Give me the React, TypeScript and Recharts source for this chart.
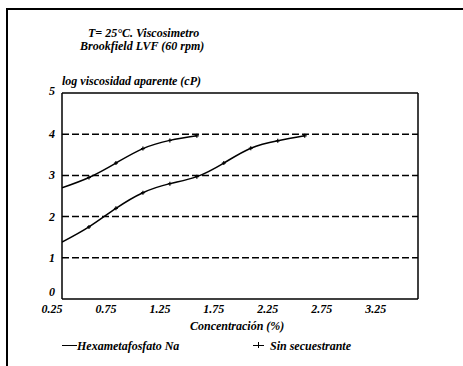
import React from 'react';
import { LineChart, Line, XAxis, YAxis, ReferenceLine } from 'recharts';

const concentrationUpper = [0.25, 0.5, 0.75, 1.0, 1.25, 1.5];
const sinSecuestrante = [2.7, 2.95, 3.3, 3.65, 3.85, 3.96];
const concentrationLower = [0.25, 0.5, 0.75, 1.0, 1.25, 1.5, 1.75, 2.0, 2.25, 2.5];
const hexametafosfato = [1.38, 1.75, 2.2, 2.58, 2.8, 2.97, 3.3, 3.66, 3.84, 3.96];
const xTicks = [0.25, 0.75, 1.25, 1.75, 2.25, 2.75, 3.25];
const yTicks = [0, 1, 2, 3, 4, 5];

const upperData = concentrationUpper.map((c, i) => ({ c, v: sinSecuestrante[i] }));
const lowerData = concentrationLower.map((c, i) => ({ c, v: hexametafosfato[i] }));

const FONT = '"Liberation Serif", "DejaVu Serif", serif';
const textStyle: React.CSSProperties = {
  fontFamily: FONT,
  fontStyle: 'italic',
  fontWeight: 'bold',
  fontSize: 12,
  lineHeight: '12px',
  color: '#000',
  position: 'absolute',
  whiteSpace: 'nowrap',
};

const XTick = (props: any) => {
  const { x, y, payload } = props;
  return (
    <text x={x + 0.5} y={y + 12} textAnchor="end" fontFamily={FONT} fontStyle="italic" fontWeight="bold" fontSize={12} fill="#000">
      {payload.value.toFixed(2)}
    </text>
  );
};

const YTick = (props: any) => {
  const { x, y, payload } = props;
  const dy = payload.value === 0 ? -3 : payload.value === 5 ? 2 : 4;
  return (
    <text x={x + 1} y={y + dy} textAnchor="end" fontFamily={FONT} fontStyle="italic" fontWeight="bold" fontSize={12} fill="#000">
      {payload.value}
    </text>
  );
};

const CrossDot = (props: any) => {
  const { cx, cy, index } = props;
  if (index === 0) return <g key={index} />;
  return (
    <g key={index}>
      <line x1={cx - 2} y1={cy} x2={cx + 2} y2={cy} stroke="#000" strokeWidth={1.2} />
      <line x1={cx} y1={cy - 2} x2={cx} y2={cy + 2} stroke="#000" strokeWidth={1.2} />
    </g>
  );
};

export default function App() {
  return (
    <div style={{ position: 'absolute', left: 0, top: 0, width: 463, height: 366, background: '#fff', overflow: 'hidden' }}>
      <div style={{ position: 'absolute', left: 6, top: 8, width: 470, height: 370, borderLeft: '2px solid #000', borderTop: '2px solid #000' }} />
      <div style={{ ...textStyle, left: 88, top: 27 }}>T= 25°C. Viscosimetro</div>
      <div style={{ ...textStyle, left: 80, top: 40 }}>Brookfield LVF (60 rpm)</div>
      <div style={{ ...textStyle, left: 62, top: 75 }}>log viscosidad aparente (cP)</div>
      <div style={{ ...textStyle, left: 190, top: 320 }}>Concentración (%)</div>
      <div style={{ position: 'absolute', left: 0, top: 0 }}>
        <LineChart width={463} height={366} margin={{ top: 93, right: 45, left: 20, bottom: 30 }}>
          <XAxis
            type="number"
            dataKey="c"
            domain={[0.25, 3.55]}
            ticks={xTicks}
            allowDataOverflow
            height={37}
            tickSize={2}
            tickMargin={0}
            tickLine={false}
            axisLine={{ stroke: '#000', strokeWidth: 1.5 }}
            tick={<XTick />}
          />
          <YAxis
            type="number"
            dataKey="v"
            domain={[0, 5]}
            ticks={yTicks}
            width={42}
            tickLine={false}
            axisLine={{ stroke: '#000', strokeWidth: 1.5 }}
            tick={<YTick />}
          />
          {[1, 2, 3, 4].map((v) => (
            <ReferenceLine key={v} y={v} stroke="#000" strokeWidth={1.5} strokeDasharray="7 3" />
          ))}
          <ReferenceLine y={5} stroke="#000" strokeWidth={1.5} />
          <ReferenceLine x={3.55} stroke="#000" strokeWidth={1.5} />
          <Line data={upperData} dataKey="v" type="natural" stroke="#000" strokeWidth={1.5} dot={<CrossDot />} isAnimationActive={false} />
          <Line data={lowerData} dataKey="v" type="natural" stroke="#000" strokeWidth={1.5} dot={<CrossDot />} isAnimationActive={false} />
        </LineChart>
      </div>
      <div style={{ position: 'absolute', left: 62, top: 345, width: 15, height: 0, borderTop: '1.5px solid #000' }} />
      <div style={{ ...textStyle, left: 77, top: 340 }}>Hexametafosfato Na</div>
      <div style={{ position: 'absolute', left: 253, top: 345, width: 11, height: 0, borderTop: '1.5px solid #000' }} />
      <div style={{ position: 'absolute', left: 258, top: 342, width: 0, height: 6, borderLeft: '1.2px solid #000' }} />
      <div style={{ ...textStyle, left: 270, top: 340 }}>Sin secuestrante</div>
    </div>
  );
}
